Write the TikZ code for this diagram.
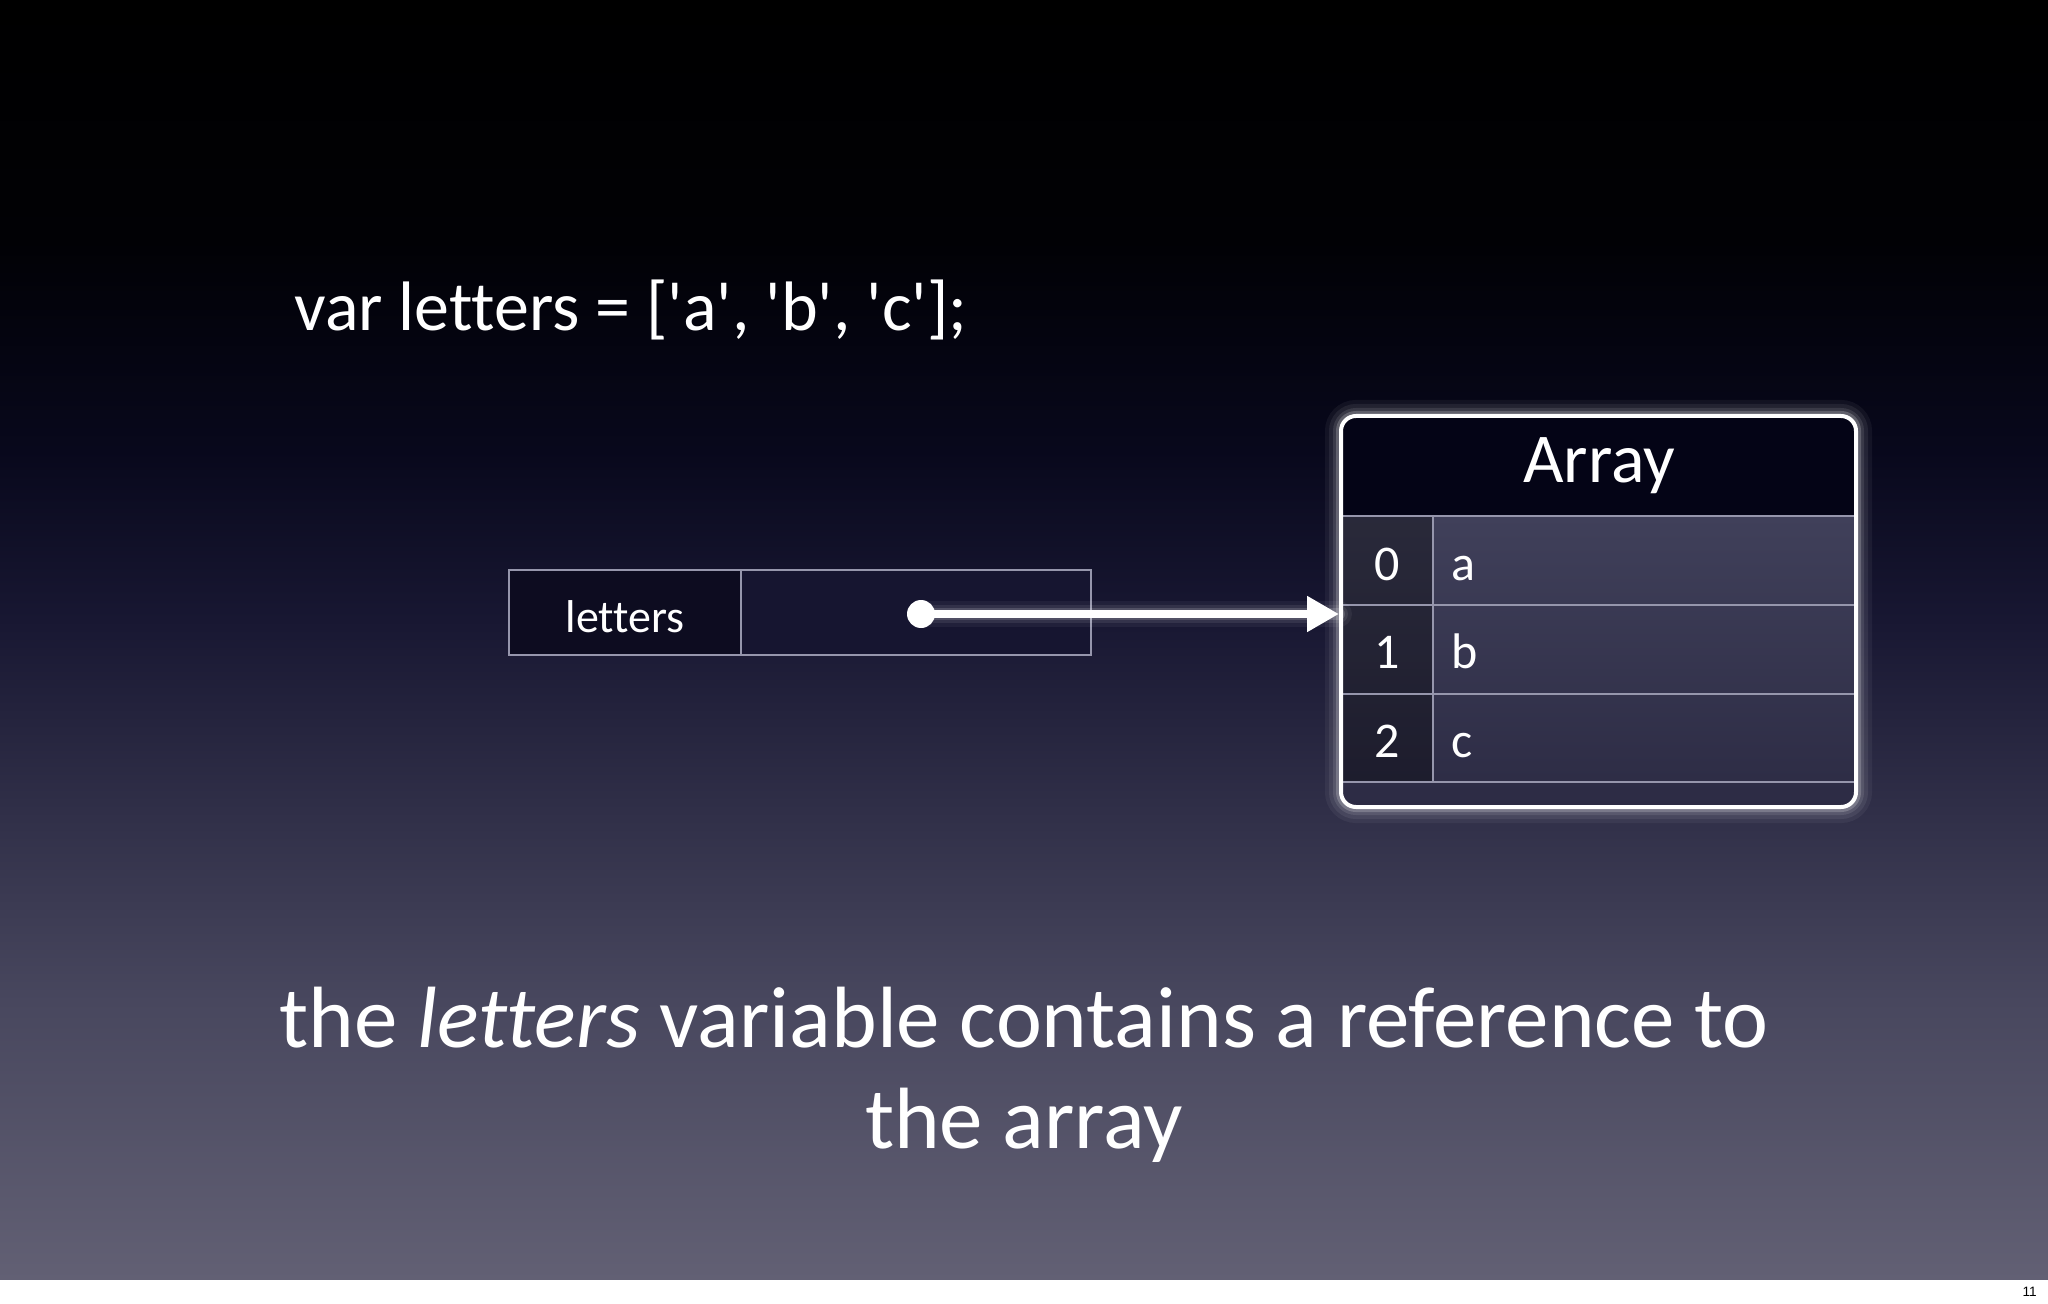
\documentclass[tikz,border=0pt]{standalone}
\usepackage{fontspec}
\setmainfont{Carlito}[Ligatures=NoCommon]
\newfontfamily\pagefont{Liberation Sans}
\usetikzlibrary{arrows.meta}

\definecolor{bgA}{RGB}{0,0,0}
\definecolor{bgB}{RGB}{1,1,5}
\definecolor{bgC}{RGB}{8,8,28}
\definecolor{bgD}{RGB}{24,23,50}
\definecolor{bgE}{RGB}{72,71,94}
\definecolor{bgF}{RGB}{98,96,116}
\definecolor{headfill}{RGB}{4,4,22}
\definecolor{rowtop}{RGB}{64,64,90}
\definecolor{rowbot}{RGB}{44,43,68}
\definecolor{gridgray}{RGB}{150,150,172}
\definecolor{slotdark}{RGB}{13,12,32}
\definecolor{slotfill}{RGB}{22,21,48}

\pgfdeclareverticalshading{slidebg}{100bp}{color(0bp)=(bgF); color(25bp)=(bgF);
  color(35.9bp)=(bgE); color(50.8bp)=(bgD); color(57.4bp)=(bgC);
  color(65.6bp)=(bgB); color(75bp)=(bgA); color(100bp)=(bgA)}

\tikzset{
  cell/.style={draw=gridgray, line width=0.7pt},
  slottext/.style={text=white, anchor=base, inner sep=0pt, font=\fontsize{25}{30}\selectfont},
  halo/.style={draw=white, line width=#1},
}

\begin{document}
\begin{tikzpicture}[x=0.5pt,y=-0.5pt]
	\useasboundingbox (0,0) rectangle (2048,1304);
	\shade[shading=slidebg] (0,0) rectangle (2048,1280);
	\fill[white] (0,1280) rectangle (2048,1304);
	\node[anchor=base east, inner sep=0pt, font=\pagefont\fontsize{6.8}{8}\selectfont] (pagenum) at (2037,1296) {11};

	\node[anchor=base west, inner sep=0pt, text=white, font=\fontsize{35}{40}\selectfont] (code) at (294,331)
		{var letters = [\textquotesingle a\textquotesingle, \textquotesingle b\textquotesingle, \textquotesingle c\textquotesingle];};

	% variable slot
	\fill[slotdark] (509,570) rectangle (741,655);
	\fill[slotfill] (741,570) rectangle (1091,655);
	\draw[cell] (509,570) rectangle (1091,655);
	\draw[cell] (741,570) -- (741,655);
	\node[anchor=base, inner sep=0pt, text=white, font=\fontsize{23}{28}\selectfont] (lbl) at (625,632) {letters};

	% array object
	\coordinate (arrNW) at (1341,416);
	\coordinate (arrSE) at (1856,807);
	\coordinate (tip) at (1339,614);
	\foreach \w/\o in {16pt/0.05, 12pt/0.07, 8pt/0.1, 5pt/0.2}
		\draw[halo=\w, opacity=\o, rounded corners=7.5pt] (arrNW) rectangle (arrSE);
	\begin{scope}
	\clip[rounded corners=7.5pt] (arrNW) rectangle (arrSE);
	\fill[headfill] (1341,416) rectangle (1856,516);
	\shade[top color=rowtop, bottom color=rowbot] (1341,516) rectangle (1856,807);
	\fill[black, opacity=0.35] (1341,516) rectangle (1433,782);
	\draw[cell] (1341,516) -- (1856,516);
	\draw[cell] (1341,605) -- (1856,605);
	\draw[cell] (1341,694) -- (1856,694);
	\draw[cell] (1341,782) -- (1856,782);
	\draw[cell] (1433,516) -- (1433,782);
	\end{scope}
	\draw[white, line width=2pt, rounded corners=7.5pt] (arrNW) rectangle (arrSE);
	\node[anchor=base, inner sep=0pt, text=white, font=\fontsize{35}{40}\selectfont] (arrtitle) at (1599,482) {Array};
	\foreach \v [count=\r from 0] in {a,b,c} {
		\node[slottext] (idx\r) at (1387,580+88.7*\r) {\r};
		\node[slottext, anchor=base west] (val\r) at (1451,580+88.7*\r) {\v};
	}

	% reference
	\node[circle, fill=white, minimum size=14pt, inner sep=0pt] (dot) at (921,614) {};
	\foreach \w/\o in {13pt/0.05, 9pt/0.08, 6pt/0.15}
		\draw[halo=\w, opacity=\o, line cap=round] (dot.center) -- (tip);
	\draw[white, line width=4pt, -{Triangle[length=16pt,width=17pt]}] (dot.center) -- (tip);

	\node[anchor=base, inner sep=0pt, text=white, font=\fontsize{43.5}{50}\selectfont] (capA) at (1024,1047)
		{the \textit{letters} variable contains a reference to};
	\node[anchor=base, inner sep=0pt, text=white, font=\fontsize{43.5}{50}\selectfont] (capB) at (1024,1148) {the array};
\end{tikzpicture}
\end{document}
